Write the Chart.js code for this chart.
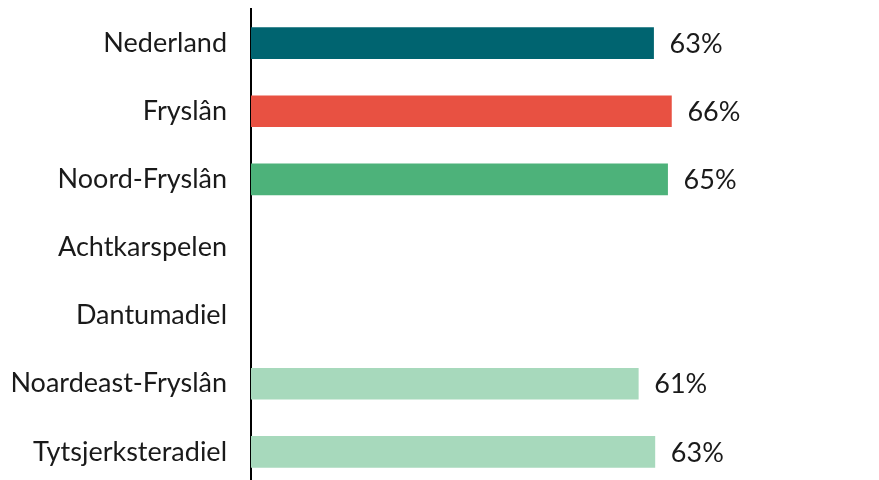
<!DOCTYPE html>
<html>
<head>
<meta charset="utf-8">
<script src="https://cdn.jsdelivr.net/npm/chart.js@4/dist/chart.umd.min.js"></script>
<style>
html,body{margin:0;padding:0;background:#fff;overflow:hidden;width:879px;height:480px;}
#wrap{position:relative;width:888px;height:486px;}
</style>
</head>
<body>
<div id="wrap"><canvas id="c" width="888" height="486"></canvas></div>
<script>
const categories = ["Nederland","Fryslân","Noord-Fryslân","Achtkarspelen","Dantumadiel","Noardeast-Fryslân","Tytsjerksteradiel"];
const values = [63.2, 66.0, 65.4, null, null, 60.8, 63.4];
const barColors = ["#006470","#E85142","#4DB27A","#A7D9BC","#A7D9BC","#A7D9BC","#A7D9BC"];

const valueLabels = {
  id: 'valueLabels',
  afterDatasetsDraw(chart) {
    const ctx = chart.ctx;
    const meta = chart.getDatasetMeta(0);
    ctx.save();
    ctx.font = '27px Lato';
    ctx.fillStyle = '#1a1a1a';
    ctx.textAlign = 'left';
    ctx.textBaseline = 'middle';
    meta.data.forEach((bar, i) => {
      const v = values[i];
      if (v === null || v === undefined) return;
      ctx.fillText(Math.round(v) + '%', bar.x + 16, bar.y + 1);
    });
    ctx.restore();
  }
};

new Chart(document.getElementById('c'), {
  type: 'bar',
  data: {
    labels: categories,
    datasets: [{
      data: values,
      backgroundColor: barColors,
      barThickness: 31
    }]
  },
  options: {
    indexAxis: 'y',
    responsive: false,
    animation: false,
    layout: { padding: { top: 9, right: 0, bottom: 0, left: 0 } },
    plugins: { legend: { display: false }, tooltip: { enabled: false } },
    scales: {
      x: { display: false, min: 0, max: 100 },
      y: {
        grid: { display: false, drawTicks: false },
        border: { display: true, color: '#000', width: 2 },
        ticks: { color: '#1a1a1a', font: { family: 'Lato', size: 27 }, padding: 24 },
        afterFit(scale) { scale.width = 251; scale.paddingTop = 0; scale.paddingBottom = 0; }
      }
    }
  },
  plugins: [valueLabels]
});
</script>
</body>
</html>
